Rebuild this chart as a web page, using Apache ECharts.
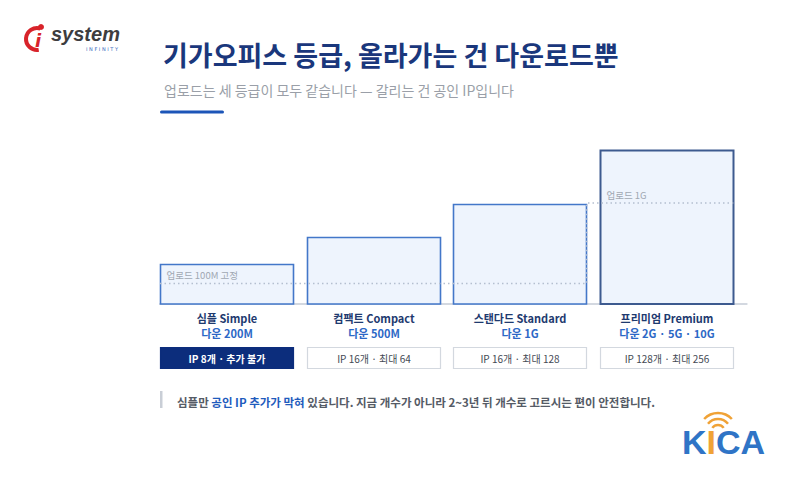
<!DOCTYPE html>
<html><head><meta charset="utf-8">
<script src="https://cdn.jsdelivr.net/npm/echarts@6/dist/echarts.min.js"></script>
<style>html,body{margin:0;padding:0;background:#fff}#c{width:800px;height:480px}</style>
</head><body><div id="c"></div>
<script>
// ---- data ----
const tiers = ['심플 Simple', '컴팩트 Compact', '스탠다드 Standard', '프리미엄 Premium'];
const downloadLabels = ['다운 200M', '다운 500M', '다운 1G', '다운 2G · 5G · 10G'];
const barLevels = [40.5, 67, 100.5, 154];      // relative bar height (visual level)
const uploadLevels = [20.5, 20.5, 20.5, 101];   // relative upload level per tier
const uploadNames = ['업로드 100M 고정', '업로드 100M 고정', '업로드 100M 고정', '업로드 1G'];
const ipLabels = ['IP 8개 · 추가 불가', 'IP 16개 · 최대 64', 'IP 16개 · 최대 128', 'IP 128개 · 최대 256'];
const highlightTier = 0;

const FONT = '"Noto Sans CJK KR", "Noto Sans", sans-serif';
const BAR_FRAC = 133.33 / 146.67;

// step-line points for the shared upload ceiling
const uploadPts = [[0, uploadLevels[0]]];
uploadLevels.forEach((u, i) => uploadPts.push([i + BAR_FRAC, u]));

const barData = tiers.map((t, i) => [i, barLevels[i]]);

const chart = echarts.init(document.getElementById('c'), null, {renderer: 'svg'});

function renderTier(params, api) {
  const i = api.value(0);
  const h = api.value(1);
  const p0 = api.coord([i, 0]);
  const p1 = api.coord([i + BAR_FRAC, h]);
  const x = Math.round(p0[0]) + 0.5, w = Math.round(p1[0] - p0[0]);
  const y = Math.round(p1[1]) + 0.5, base = Math.round(p0[1]);
  const cx = x + w / 2;
  const prem = i === tiers.length - 1;
  const children = [
    {type: 'rect', shape: {x: x, y: y, width: w, height: base - y},
     style: {fill: '#eef4fd', stroke: prem ? '#3d5a8f' : '#4377c9', lineWidth: prem ? 2 : 1.6}},
    {type: 'text', x: cx, y: base + 14, style: {text: tiers[i], fill: '#1e3a6f', font: 'bold 11px ' + FONT, align: 'center', verticalAlign: 'middle'}},
    {type: 'text', x: cx, y: base + 29, style: {text: downloadLabels[i], fill: '#2c68c6', font: 'bold 11px ' + FONT, align: 'center', verticalAlign: 'middle'}}
  ];
  const hl = i === highlightTier;
  children.push({type: 'rect', shape: {x: x, y: base + 43.5, width: w, height: 21},
    style: {fill: hl ? '#0c2d7c' : '#ffffff', stroke: hl ? '#0c2d7c' : '#d3d8df', lineWidth: 1.2}});
  children.push({type: 'text', x: cx, y: base + 54, style: {text: ipLabels[i], fill: hl ? '#ffffff' : '#444a54', font: (hl ? 'bold ' : '') + '10px ' + FONT, align: 'center', verticalAlign: 'middle'}});
  // upload label where the upload level changes
  if (i === 0 || uploadLevels[i] !== uploadLevels[i - 1]) {
    const up = api.coord([i, uploadLevels[i]]);
    children.push({type: 'text', x: x + 6, y: up[1] - 8.5, z2: 5, style: {text: uploadNames[i], fill: '#a0a7b2', font: '9.5px ' + FONT, align: 'left', verticalAlign: 'middle'}});
  }
  return {type: 'group', children: children};
}

chart.setOption({
  animation: false,
  title: [
    {text: '기가오피스 등급, 올라가는 건 다운로드뿐', left: 158, top: 36,
     textStyle: {fontFamily: FONT, fontSize: 27, fontWeight: 'bold', color: '#1a377c'}},
    {text: '업로드는 세 등급이 모두 같습니다 — 갈리는 건 공인 IP입니다', left: 159, top: 78,
     textStyle: {fontFamily: FONT, fontSize: 14, fontWeight: 'normal', color: '#9a9fa8'}},
    {text: '{a|심플만 }{b|공인 IP 추가가 막혀}{a| 있습니다. 지금 개수가 아니라 2~3년 뒤 개수로 고르시는 편이 안전합니다.}',
     left: 172, top: 391,
     textStyle: {rich: {
       a: {fontFamily: FONT, fontSize: 11.5, color: '#555b66'},
       b: {fontFamily: FONT, fontSize: 11.5, color: '#1f5cbd', fontWeight: 'bold'}}}}
  ],
  grid: {left: 160, right: 53.33, top: 144, bottom: 176},
  xAxis: {type: 'value', min: 0, max: 4, show: true,
    axisLine: {show: true, lineStyle: {color: '#d3d8e0', width: 2}},
    axisTick: {show: false}, axisLabel: {show: false}, splitLine: {show: false}},
  yAxis: {type: 'value', min: 0, max: 160, show: false, splitLine: {show: false}},
  series: [
    {type: 'custom', renderItem: renderTier, data: barData, clip: false, z: 2},
    {type: 'line', data: uploadPts, step: 'start', symbol: 'none', z: 3, silent: true,
     lineStyle: {type: [1.5, 3], color: '#b4bfd0', width: 1.4}}
  ],
  graphic: [
    // title underline
    {type: 'rect', shape: {x: 160, y: 110.5, width: 64, height: 3, r: 1.5}, style: {fill: '#1c55b8'}},
    // footer accent bar
    {type: 'rect', shape: {x: 160, y: 391, width: 2.5, height: 17}, style: {fill: '#c9ced6'}},
    // i-system logo
    {type: 'arc', shape: {cx: 37, cy: 39, r: 11, startAngle: Math.PI * 0.45, endAngle: Math.PI * 1.6}, style: {stroke: '#d8232a', lineWidth: 4, fill: null}},
    {type: 'circle', shape: {cx: 41, cy: 27, r: 3}, style: {fill: '#d8232a'}},
    {type: 'text', x: 35, y: 31, style: {text: 'i', font: 'italic bold 18px "DejaVu Sans", sans-serif', fill: '#d8232a'}},
    {type: 'text', x: 51, y: 24, style: {text: 'system', font: 'italic bold 20px "Liberation Sans", sans-serif', fill: '#3d3d3f'}},
    {type: 'text', x: 86, y: 46, style: {text: 'I N F I N I T Y', font: '5px "DejaVu Sans", sans-serif', fill: '#3a6cc0'}},
    // KICA logo
    {type: 'arc', shape: {cx: 718, cy: 432, r: 7, startAngle: Math.PI * 1.2, endAngle: Math.PI * 1.8}, style: {stroke: '#f0a236', lineWidth: 2.5, fill: null}},
    {type: 'arc', shape: {cx: 718, cy: 432, r: 13, startAngle: Math.PI * 1.22, endAngle: Math.PI * 1.78}, style: {stroke: '#f0a236', lineWidth: 2.5, fill: null}},
    {type: 'arc', shape: {cx: 718, cy: 432, r: 19, startAngle: Math.PI * 1.24, endAngle: Math.PI * 1.76}, style: {stroke: '#f0a236', lineWidth: 2.5, fill: null}},
    {type: 'text', x: 682, y: 425, style: {text: '{k|K}{i|I}{k|CA}', rich: {
      k: {font: 'bold 34px "Liberation Sans", sans-serif', fill: '#2f74c6'},
      i: {font: 'bold 34px "Liberation Sans", sans-serif', fill: '#f0a236'}}}}
  ]
});
</script>
</body></html>
